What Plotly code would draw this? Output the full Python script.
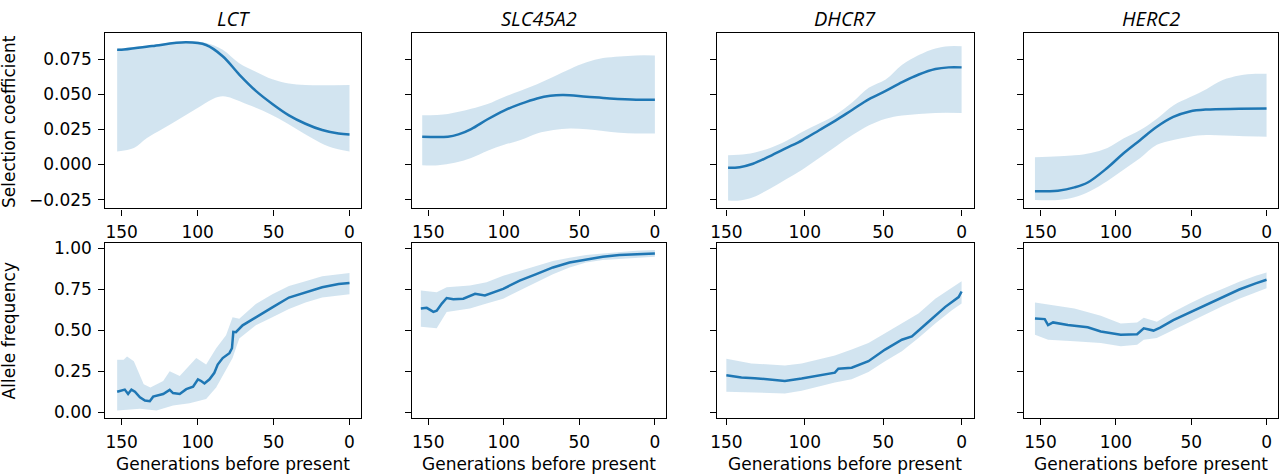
import plotly.graph_objects as go

genes = ["LCT", "SLC45A2", "DHCR7", "HERC2"]
x_ranges = [[160.7, -7.6], [160.9, -7.6], [155.9, -7.7], [160.7, -7.6]]
x_ticks = [150, 100, 50, 0]
sel_ticks = [-0.025, 0.0, 0.025, 0.05, 0.075]
freq_ticks = [0.0, 0.25, 0.5, 0.75, 1.0]

# ---------------- Selection coefficient (top row) ----------------
lct_sel_x = [153, 150, 130, 107.5, 94.4, 83.5, 72.6, 61.7, 50.8, 39.9, 29, 18, 7.2, 0]
lct_sel = [0.0816, 0.0816, 0.0843, 0.0869, 0.085, 0.077, 0.064, 0.0524, 0.0431, 0.035, 0.029, 0.0245, 0.022, 0.0214]
lct_sel_up_x = [153, 130, 107.5, 95, 83.5, 72.6, 61.7, 50.8, 39.9, 29, 0]
lct_sel_up = [0.0823, 0.0851, 0.0876, 0.0866, 0.0816, 0.072, 0.066, 0.0606, 0.0576, 0.0566, 0.0566]
lct_sel_lo_x = [153, 142, 133.6, 122.7, 111.8, 100.9, 90, 83.5, 77, 68, 57.3, 46.4, 35.5, 24.6, 13.7, 0]
lct_sel_lo = [0.0093, 0.0117, 0.0186, 0.0256, 0.0326, 0.0396, 0.0466, 0.0485, 0.047, 0.043, 0.0385, 0.0326, 0.0256, 0.0186, 0.0128, 0.0093]

slc_sel_x = [154, 137, 130, 121.6, 110.7, 99.8, 88.9, 78, 69.2, 60.5, 45.2, 29.9, 12.4, 0]
slc_sel = [0.0198, 0.0198, 0.0214, 0.0252, 0.0322, 0.0384, 0.0431, 0.047, 0.0489, 0.0494, 0.0482, 0.047, 0.0461, 0.0461]
slc_sel_up_x = [154, 137, 121.6, 110.7, 99.8, 88.9, 78, 67.1, 56.1, 45.2, 34.3, 23.4, 12.4, 0]
slc_sel_up = [0.035, 0.036, 0.0396, 0.043, 0.048, 0.0524, 0.057, 0.0624, 0.068, 0.0727, 0.0757, 0.0769, 0.0776, 0.0776]
slc_sel_lo_x = [154, 143.4, 132.5, 121.6, 110.7, 99.8, 88.9, 78, 67.1, 56.1, 45.2, 34.3, 23.4, 12.4, 0]
slc_sel_lo = [-0.0005, -0.0005, 0.0012, 0.0047, 0.0098, 0.014, 0.0175, 0.0221, 0.0245, 0.0256, 0.025, 0.0238, 0.0226, 0.0221, 0.0221]

dhc_sel_x = [148.9, 141.5, 133, 122.5, 111.9, 101.4, 90.8, 80.2, 69.6, 59, 48.4, 37.9, 27.3, 16.7, 8.3, 0]
dhc_sel = [-0.0023, -0.0019, 0.0005, 0.0058, 0.0116, 0.0174, 0.0244, 0.0314, 0.039, 0.0465, 0.0523, 0.0586, 0.064, 0.0679, 0.0691, 0.0691]
dhc_sel_up_x = [148.9, 137.3, 122.5, 111.9, 101.4, 90.8, 80.2, 69.6, 59, 48.4, 37.9, 27.3, 16.7, 8.3, 0]
dhc_sel_up = [0.0065, 0.0074, 0.0116, 0.0167, 0.0233, 0.0291, 0.0354, 0.0442, 0.0547, 0.0605, 0.071, 0.0779, 0.0826, 0.0842, 0.0842]
dhc_sel_lo_x = [148.9, 141.5, 133, 122.5, 111.9, 101.4, 90.8, 80.2, 69.6, 59, 48.4, 37.9, 27.3, 16.7, 0]
dhc_sel_lo = [-0.0256, -0.0256, -0.0233, -0.0174, -0.0105, -0.0035, 0.0047, 0.0128, 0.0209, 0.0279, 0.0326, 0.0349, 0.036, 0.0367, 0.0367]

her_sel_x = [153.7, 138.4, 127.5, 118.7, 105.6, 94.7, 83.8, 72.8, 61.9, 51, 40, 18.1, 0]
her_sel = [-0.0191, -0.0186, -0.0163, -0.0128, -0.0023, 0.0082, 0.0175, 0.0268, 0.0338, 0.0377, 0.0391, 0.0396, 0.0398]
her_sel_up_x = [153.7, 127.5, 116.6, 105.6, 94.7, 83.8, 72.8, 61.9, 51, 40, 29.1, 18.1, 7.2, 0]
her_sel_up = [0.0051, 0.0065, 0.0082, 0.0117, 0.0186, 0.0245, 0.0326, 0.042, 0.0478, 0.0536, 0.0601, 0.0634, 0.0645, 0.0645]
her_sel_lo_x = [153.7, 138.4, 127.5, 116.6, 105.6, 94.7, 83.8, 72.8, 61.9, 51, 40, 18.1, 0]
her_sel_lo = [-0.0252, -0.0252, -0.0233, -0.0186, -0.0117, -0.0035, 0.0047, 0.014, 0.0175, 0.0198, 0.021, 0.0203, 0.0198]

# ---------------- Allele frequency (bottom row) ----------------
lct_frq_x = [153, 150, 148, 145.8, 143.6, 141.3, 138, 134.7, 131.5, 129.3, 122.7, 118.4, 116.2, 111.8, 107.5, 103, 99.8, 97.7, 95.5, 92.2, 89, 86.8, 83.5, 79.1, 77.4, 76.5, 74.8, 70.4, 61.7, 50.8, 39.9, 29, 18, 7.2, 0]
lct_frq = [0.124, 0.13, 0.137, 0.11, 0.137, 0.124, 0.09, 0.07, 0.066, 0.094, 0.11, 0.135, 0.116, 0.11, 0.14, 0.155, 0.2, 0.19, 0.175, 0.2, 0.24, 0.29, 0.33, 0.36, 0.39, 0.49, 0.488, 0.53, 0.58, 0.64, 0.70, 0.733, 0.763, 0.783, 0.789]
lct_frq_up_x = [153, 148.7, 146.5, 142, 135.5, 131.1, 122.7, 118.4, 111.8, 100.9, 94.4, 87.8, 81.3, 77, 72.6, 61.7, 50.8, 39.9, 29, 18, 0]
lct_frq_up = [0.32, 0.32, 0.34, 0.31, 0.17, 0.15, 0.19, 0.25, 0.22, 0.33, 0.29, 0.39, 0.47, 0.58, 0.57, 0.66, 0.72, 0.77, 0.80, 0.83, 0.85]
lct_frq_lo_x = [153, 138, 127.1, 116.2, 105.3, 94.4, 87.8, 81.3, 77, 72.6, 61.7, 50.8, 39.9, 29, 18, 0]
lct_frq_lo = [0.01, 0.02, 0.01, 0.04, 0.054, 0.08, 0.15, 0.26, 0.33, 0.45, 0.53, 0.58, 0.63, 0.67, 0.70, 0.72]

slc_frq_x = [154.9, 151, 146.6, 144.4, 141, 137.8, 133.4, 126.8, 119, 112.5, 100.4, 89.5, 78.5, 67.5, 56.5, 45.5, 34.5, 23.5, 12.5, 0]
slc_frq = [0.633, 0.637, 0.612, 0.62, 0.663, 0.697, 0.689, 0.693, 0.723, 0.713, 0.753, 0.803, 0.843, 0.884, 0.914, 0.934, 0.95, 0.96, 0.966, 0.97]
slc_frq_up_x = [154.9, 144.4, 137.8, 122.4, 111.4, 100.4, 89.5, 78.5, 67.5, 56.5, 45.5, 34.5, 12.5, 0]
slc_frq_up = [0.743, 0.733, 0.763, 0.773, 0.793, 0.833, 0.863, 0.894, 0.924, 0.944, 0.96, 0.97, 0.986, 0.99]
slc_frq_lo_x = [154.9, 144.4, 137.8, 122.4, 111.4, 100.4, 89.5, 78.5, 67.5, 56.5, 45.5, 34.5, 12.5, 0]
slc_frq_lo = [0.522, 0.512, 0.612, 0.633, 0.663, 0.693, 0.743, 0.793, 0.843, 0.884, 0.914, 0.93, 0.944, 0.95]

dhc_frq_x = [150, 140.4, 131.9, 123.4, 112.7, 102, 91.4, 80.8, 78.6, 70.1, 59.4, 48.8, 38.1, 31.7, 21.1, 10.4, 1.9, 0]
dhc_frq = [0.225, 0.211, 0.207, 0.2, 0.19, 0.205, 0.225, 0.241, 0.265, 0.271, 0.311, 0.382, 0.442, 0.462, 0.552, 0.643, 0.703, 0.737]
dhc_frq_up_x = [150, 134, 112.7, 102, 91.4, 80.8, 70.1, 59.4, 48.8, 38.1, 27.5, 16.8, 6.2, 0]
dhc_frq_up = [0.325, 0.297, 0.285, 0.297, 0.321, 0.345, 0.382, 0.422, 0.482, 0.542, 0.602, 0.693, 0.763, 0.799]
dhc_frq_lo_x = [150, 134, 123.4, 112.7, 102, 91.4, 80.8, 70.1, 59.4, 48.8, 38.1, 27.5, 16.8, 6.2, 0]
dhc_frq_lo = [0.124, 0.12, 0.114, 0.114, 0.13, 0.157, 0.181, 0.2, 0.245, 0.311, 0.371, 0.452, 0.542, 0.622, 0.663]

her_frq_x = [153.7, 147.2, 145, 141.7, 131.9, 118.7, 110, 96.8, 85.9, 81.5, 75, 70.6, 61.9, 51, 40, 29, 18.1, 7.2, 0]
her_frq = [0.572, 0.568, 0.532, 0.548, 0.532, 0.518, 0.492, 0.472, 0.476, 0.512, 0.498, 0.516, 0.562, 0.608, 0.657, 0.703, 0.749, 0.787, 0.809]
her_frq_up_x = [153.7, 145, 127.5, 110, 96.8, 85.9, 81.5, 72.8, 61.9, 51, 40, 29, 18.1, 7.2, 0]
her_frq_up = [0.669, 0.657, 0.633, 0.588, 0.542, 0.548, 0.576, 0.552, 0.612, 0.663, 0.713, 0.753, 0.797, 0.833, 0.853]
her_frq_lo_x = [153.7, 145, 127.5, 110, 96.8, 85.9, 81.5, 72.8, 61.9, 51, 40, 29, 18.1, 7.2, 0]
her_frq_lo = [0.472, 0.442, 0.432, 0.422, 0.402, 0.412, 0.442, 0.452, 0.502, 0.552, 0.602, 0.649, 0.693, 0.733, 0.757]

sel_series = [
    (lct_sel_x, lct_sel, lct_sel_up_x, lct_sel_up, lct_sel_lo_x, lct_sel_lo),
    (slc_sel_x, slc_sel, slc_sel_up_x, slc_sel_up, slc_sel_lo_x, slc_sel_lo),
    (dhc_sel_x, dhc_sel, dhc_sel_up_x, dhc_sel_up, dhc_sel_lo_x, dhc_sel_lo),
    (her_sel_x, her_sel, her_sel_up_x, her_sel_up, her_sel_lo_x, her_sel_lo),
]
frq_series = [
    (lct_frq_x, lct_frq, lct_frq_up_x, lct_frq_up, lct_frq_lo_x, lct_frq_lo),
    (slc_frq_x, slc_frq, slc_frq_up_x, slc_frq_up, slc_frq_lo_x, slc_frq_lo),
    (dhc_frq_x, dhc_frq, dhc_frq_up_x, dhc_frq_up, dhc_frq_lo_x, dhc_frq_lo),
    (her_frq_x, her_frq, her_frq_up_x, her_frq_up, her_frq_lo_x, her_frq_lo),
]

W, H = 1280, 475
col_px = [(99, 356), (407, 663), (714, 972), (1023, 1278)]
row_px = [(30, 208), (243, 421)]
LINE = "#1f77b4"
BAND = "rgba(31,119,180,0.2)"
TICKFONT = dict(family="DejaVu Sans", size=17, color="black")

fig = go.Figure()
layout = dict(width=W, height=H, margin=dict(l=0, r=0, t=0, b=0),
              paper_bgcolor="white", plot_bgcolor="white", showlegend=False)
annotations = []

for r, series in enumerate([sel_series, frq_series]):
    for c in range(4):
        idx = r * 4 + c + 1
        xa = "x" if idx == 1 else f"x{idx}"
        ya = "y" if idx == 1 else f"y{idx}"
        lx, ly, ux, uy, dx, dy = series[c]
        shape = "spline" if r == 0 else "linear"
        fig.add_trace(go.Scatter(x=dx, y=dy, mode="lines", line=dict(width=0, color=BAND, shape=shape),
                                 xaxis=xa, yaxis=ya, hoverinfo="skip"))
        fig.add_trace(go.Scatter(x=ux, y=uy, mode="lines", line=dict(width=0, color=BAND, shape=shape),
                                 fill="tonexty", fillcolor=BAND, xaxis=xa, yaxis=ya, hoverinfo="skip"))
        fig.add_trace(go.Scatter(x=lx, y=ly, mode="lines", line=dict(width=2.5, color=LINE, shape=shape),
                                 xaxis=xa, yaxis=ya))
        x0, x1 = col_px[c]
        y0, y1 = row_px[r]
        axcommon = dict(showline=True, linecolor="black", linewidth=1.4, mirror=True,
                        ticks="outside", ticklen=6, tickwidth=1.4, tickcolor="black",
                        showgrid=False, zeroline=False, tickfont=TICKFONT)
        layout["xaxis" if idx == 1 else f"xaxis{idx}"] = dict(
            axcommon, domain=[x0 / W, x1 / W], anchor=ya, range=x_ranges[c],
            tickmode="array", tickvals=x_ticks, ticktext=[str(v) for v in x_ticks],
            ticklabelstandoff=2)
        if r == 0:
            yax = dict(axcommon, domain=[1 - y1 / H, 1 - y0 / H], anchor=xa,
                       range=[-0.0313, 0.0932], tickmode="array", tickvals=sel_ticks,
                       tickformat=".3f", showticklabels=(c == 0), ticklabelstandoff=3)
        else:
            yax = dict(axcommon, domain=[1 - y1 / H, 1 - y0 / H], anchor=xa,
                       range=[-0.036, 1.034], tickmode="array", tickvals=freq_ticks,
                       tickformat=".2f", showticklabels=(c == 0), ticklabelstandoff=3)
        layout["yaxis" if idx == 1 else f"yaxis{idx}"] = yax

for c, g in enumerate(genes):
    x0, x1 = col_px[c]
    annotations.append(dict(text=f"<i>{g}</i>", x=(x0 + x1) / 2 / W, y=1.0, xref="paper", yref="paper",
                            showarrow=False, xanchor="center", yanchor="top", borderpad=0,
                            font=dict(family="Open Sans", size=20, color="black")))
    annotations.append(dict(text="Generations before present", x=(x0 + x1) / 2 / W, y=1 - 468 / H,
                            xref="paper", yref="paper", showarrow=False, xanchor="center", yanchor="middle",
                            font=TICKFONT))

annotations.append(dict(text="Selection coefficient", x=2 / W, y=1 - 119 / H, xref="paper", yref="paper",
                        showarrow=False, textangle=-90, xanchor="center", yanchor="middle", font=TICKFONT))
annotations.append(dict(text="Allele frequency", x=2 / W, y=1 - 332 / H, xref="paper", yref="paper",
                        showarrow=False, textangle=-90, xanchor="center", yanchor="middle", font=TICKFONT))

layout["annotations"] = annotations
fig.update_layout(**layout)
fig.write_html("out.html", config={"displayModeBar": False},
               post_script="document.body.style.margin='0';document.body.style.padding='0';"
                           "document.body.style.overflow='hidden';")
